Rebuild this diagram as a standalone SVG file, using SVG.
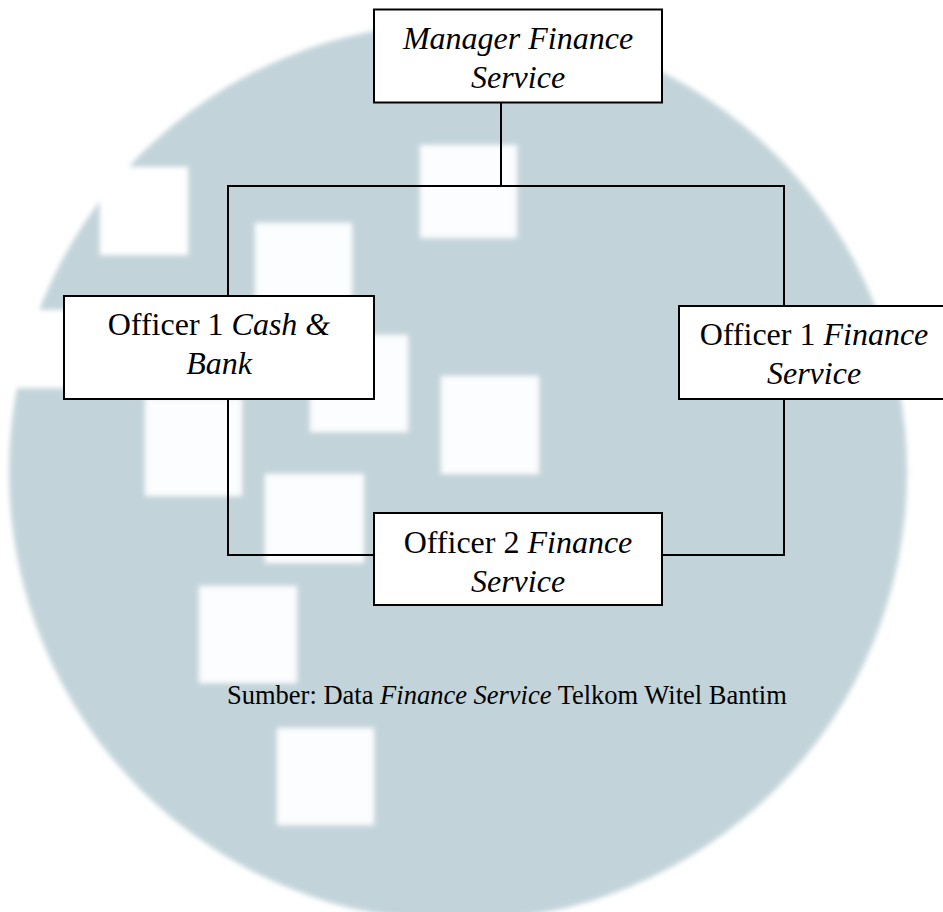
<svg xmlns="http://www.w3.org/2000/svg" width="943" height="912" viewBox="0 0 943 912">
  <defs>
    <filter id="soft" x="-5%" y="-5%" width="110%" height="110%">
      <feGaussianBlur stdDeviation="2.5"/>
    </filter>
    <style>
      .box { fill: #ffffff; stroke: #000000; stroke-width: 2; }
      .wire { fill: none; stroke: #000000; stroke-width: 2; }
      .lbl { font-family: "Liberation Serif", "Times New Roman", serif; font-size: 32px; fill: #000000; text-anchor: middle; }
      .note { font-family: "Liberation Serif", "Times New Roman", serif; font-size: 26.5px; fill: #000000; }
      .it { font-style: italic; }
      .tile { fill: #fbfdfe; }
    </style>
  </defs>

  <rect x="0" y="0" width="943" height="912" fill="#ffffff"/>

  <!-- background emblem: tinted disc with square cut-outs -->
  <g id="emblem" filter="url(#soft)">
    <circle cx="458" cy="472" r="449" fill="#c2d4da"/>
    <rect x="100" y="167" width="88" height="88" fill="#ffffff"/>
    <rect x="0" y="310" width="66" height="78" fill="#ffffff"/>
    <rect class="tile" x="420" y="145" width="97" height="93"/>
    <rect class="tile" x="255" y="223" width="97" height="97"/>
    <rect class="tile" x="310" y="335" width="98" height="97"/>
    <rect class="tile" x="145" y="398" width="97" height="98"/>
    <rect class="tile" x="441" y="376" width="98" height="98"/>
    <rect class="tile" x="265" y="474" width="99" height="89"/>
    <rect class="tile" x="199" y="586" width="98" height="97"/>
    <rect class="tile" x="277" y="728" width="97" height="97"/>
  </g>

  <!-- connectors -->
  <g id="connectors">
    <polyline class="wire" points="501,103 501,186"/>
    <polyline class="wire" points="228,296 228,186 784,186 784,306"/>
    <polyline class="wire" points="228,399 228,555 374,555"/>
    <polyline class="wire" points="784,399 784,555 662,555"/>
  </g>

  <g id="manager">
    <rect class="box" x="374" y="9.5" width="288" height="93"/>
    <text class="lbl it" x="518" y="49">Manager Finance</text>
    <text class="lbl it" x="518" y="88">Service</text>
  </g>

  <g id="officer-cash-bank">
    <rect class="box" x="64" y="296" width="310" height="103"/>
    <text class="lbl" x="219" y="335">Officer 1 <tspan class="it">Cash &amp;</tspan></text>
    <text class="lbl it" x="219" y="374">Bank</text>
  </g>

  <g id="officer1-finance">
    <rect class="box" x="679" y="306" width="272" height="93"/>
    <text class="lbl" x="814" y="345">Officer 1 <tspan class="it">Finance</tspan></text>
    <text class="lbl it" x="814" y="384">Service</text>
  </g>

  <g id="officer2-finance">
    <rect class="box" x="374" y="513" width="288" height="92"/>
    <text class="lbl" x="518" y="553">Officer 2 <tspan class="it">Finance</tspan></text>
    <text class="lbl it" x="518" y="592">Service</text>
  </g>

  <text class="note" x="227" y="704">Sumber: Data <tspan class="it">Finance Service</tspan> Telkom Witel Bantim</text>
</svg>
